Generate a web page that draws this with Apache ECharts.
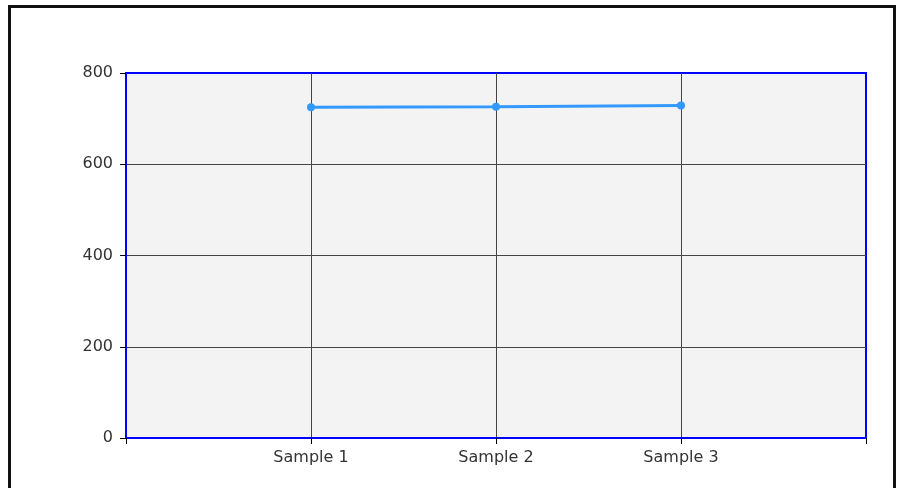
<!DOCTYPE html>
<html>
<head>
<meta charset="utf-8">
<script src="https://cdn.jsdelivr.net/npm/echarts@6/dist/echarts.min.js"></script>
<style>
  html, body { margin: 0; padding: 0; background: #fff; }
  #main { width: 898px; height: 488px; }
</style>
</head>
<body>
<div id="main"></div>
<script>
// chart data
var categories = ['Sample 1', 'Sample 2', 'Sample 3'];
var values = [725, 726, 729];
var yTicks = [0, 200, 400, 600, 800];

var myChart = echarts.init(document.getElementById('main'));

// categories sit at 1..n on a 0..n+1 axis
var points = values.map(function (v, i) { return [i + 1, v]; });

// first and last grid lines are part of the blue frame
var xLineColors = ['#0000ff'];
for (var i = 0; i < categories.length; i++) xLineColors.push('#444');
xLineColors.push('#0000ff');
var yLineColors = yTicks.map(function (t, i) {
  return (i === 0 || i === yTicks.length - 1) ? '#0000ff' : '#444';
});

myChart.setOption({
  animation: false,
  textStyle: { fontFamily: 'DejaVu Sans' },
  graphic: [{
    type: 'rect',
    shape: { x: 9.5, y: 6.5, width: 885, height: 500 },
    style: { fill: 'none', stroke: '#111', lineWidth: 3 },
    silent: true
  }],
  grid: {
    left: 126, top: 73, right: 32, bottom: 50,
    show: true,
    backgroundColor: '#f3f3f3',
    borderColor: '#0000ff',
    borderWidth: 2
  },
  xAxis: {
    type: 'value',
    min: 0,
    max: categories.length + 1,
    interval: 1,
    axisLine: { lineStyle: { color: '#0000ff', width: 2 } },
    axisTick: { show: true, length: 6, lineStyle: { color: '#000' } },
    axisLabel: {
      margin: 12,
      color: '#333',
      fontSize: 16,
      showMinLabel: true,
      showMaxLabel: true,
      formatter: function (v) { return categories[v - 1] || ''; }
    },
    splitLine: { show: true, lineStyle: { color: xLineColors, width: 1 } }
  },
  yAxis: {
    type: 'value',
    min: yTicks[0],
    max: yTicks[yTicks.length - 1],
    interval: yTicks[1] - yTicks[0],
    axisLine: { show: true, lineStyle: { color: '#0000ff', width: 2 } },
    axisTick: { show: true, length: 6, lineStyle: { color: '#000' } },
    axisLabel: { margin: 13, color: '#333', fontSize: 16 },
    splitLine: { show: true, lineStyle: { color: yLineColors, width: 1 } }
  },
  series: [{
    type: 'line',
    data: points,
    symbol: 'circle',
    symbolSize: 8,
    lineStyle: { color: '#3399ff', width: 3 },
    itemStyle: { color: '#3399ff' }
  }]
});
</script>
</body>
</html>
